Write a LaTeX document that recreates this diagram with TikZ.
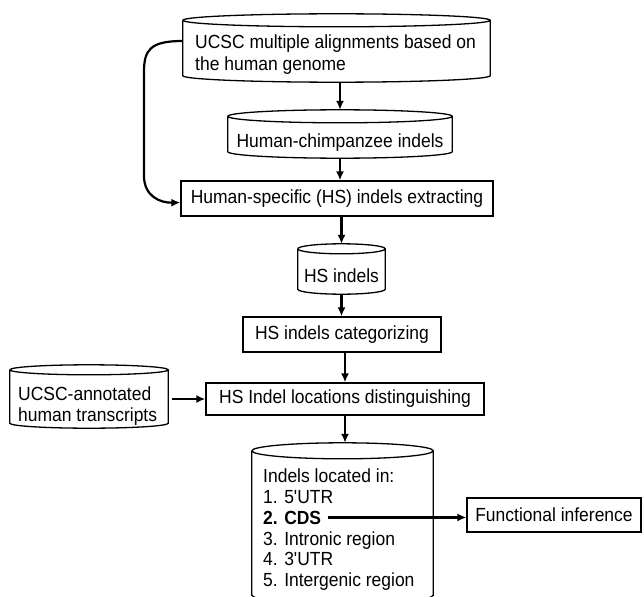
\documentclass[tikz,border=0pt]{standalone}
\usepackage{fontspec}
\setmainfont{Liberation Sans}[FakeStretch=0.92]
\newfontfamily\qf{Liberation Sans}[FakeStretch=0.92,Ligatures=ResetAll]
\usetikzlibrary{arrows.meta,calc}
\newcommand\fs{\fontsize{19}{21}\selectfont}
\newcommand\aq{{\qf\symbol{39}}}
\tikzset{
  box/.style={draw, line width=1.3pt, inner sep=0pt, font=\fs},
  cylbox/.style={inner sep=0pt},
  txt/.style={inner sep=0pt, font=\fs, anchor=base west},
  arr/.style={line width=2.2pt, -{Latex[length=9pt,width=8pt]}},
  outl/.style={line width=1.3pt},
}
\newcommand\cylout[2]{%
  \draw[outl] let \p1=(#1.north west), \p2=(#1.south east), \n1={(\x2-\x1)/2} in
    (\x1,\y1-#2) -- (\x1,\y2+#2) arc[start angle=180,end angle=360,x radius=\n1,y radius=#2] -- (\x2,\y1-#2)
    (\x1,\y1-#2) arc[start angle=180,end angle=-180,x radius=\n1,y radius=#2];}
\begin{document}
\begin{tikzpicture}[x=1pt,y=1pt]
\useasboundingbox[fill=white] (0,0) rectangle (644,-596);
% top cylinder
\node[cylbox, minimum width=307pt, minimum height=68pt] (tc) at (336.5,-48) {};
\cylout{tc}{6.5pt}
\node[txt] (tc1) at (195,-49) {UCSC multiple alignments based on};
\node[txt] (tc2) at (195,-71) {the human genome};
% human-chimp cylinder
\node[cylbox, minimum width=224pt, minimum height=48pt] (hc) at (340,-134) {};
\cylout{hc}{6.5pt}
\node[txt, anchor=base] (hct) at (340,-148) {Human-chimpanzee indels};
% extracting box
\node[box, minimum width=312pt, minimum height=35pt] (ex) at (337,-198.5) {Human-specific (HS) indels extracting};
% HS indels cylinder
\node[cylbox, minimum width=87pt, minimum height=50pt] (hs) at (341.5,-269) {};
\cylout{hs}{5pt}
\node[txt, anchor=base] (hst) at (341.5,-282) {HS indels};
% categorizing
\node[box, minimum width=198pt, minimum height=35pt] (cat) at (342,-334.5) {HS indels categorizing};
% locations
\node[box, minimum width=278pt, minimum height=32pt] (loc) at (345,-399) {HS Indel locations distinguishing};
% annotated transcripts cylinder
\node[cylbox, minimum width=158pt, minimum height=63pt] (ua) at (89,-396.5) {};
\cylout{ua}{5pt}
\node[txt] (ua1) at (18,-400) {UCSC-annotated};
\node[txt] (ua2) at (18,-421) {human transcripts};
% bottom cylinder
\node[cylbox, minimum width=181pt, minimum height=160pt] (bc) at (342.5,-523) {};
\cylout{bc}{8pt}
\node[txt] (l0) at (263,-482) {Indels located in:};
\node[txt] (l1) at (263,-503) {1. 5\aq UTR};
\node[txt, font=\fs\bfseries] (cds) at (263,-524) {2. CDS};
\node[txt] (l3) at (263,-545) {3. Intronic region};
\node[txt] (l4) at (263,-565) {4. 3\aq UTR};
\node[txt] (l5) at (263,-586) {5. Intergenic region};
% functional inference
\node[box, minimum width=174pt, minimum height=34pt] (fi) at (554,-515) {Functional inference};
% connectors
\draw[arr] (tc.south -| hc.north) -- (hc.north);
\draw[arr] (hc.south) -- (hc.south |- ex.north);
\draw[arr] (ex.south -| hs.north) -- (hs.north);
\draw[arr] (hs.south) -- (hs.south |- cat.north);
\draw[arr] (cat.south -| loc.north) -- (loc.north);
\draw[arr] (loc.south) -- (loc.south |- bc.north);
\draw[arr] ([xshift=4pt]ua.east |- loc.west) -- (loc.west);
\draw[arr] ([xshift=7pt]cds.east) -- (cds.east -| fi.west);
\draw[arr] ([yshift=7pt]tc.west) .. controls (150,-41) and (144,-50) .. (144,-72)
  -- (144,-176) .. controls (144,-196) and (160,-203) .. ([yshift=-4pt]ex.west);
\end{tikzpicture}
\end{document}
